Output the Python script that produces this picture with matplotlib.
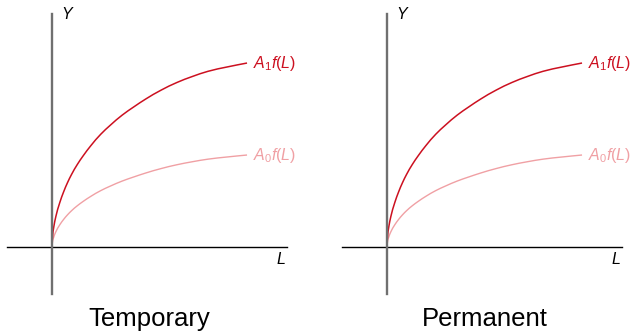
import numpy as np
import matplotlib.pyplot as plt
from matplotlib.path import Path
from matplotlib.patches import PathPatch

plt.rcParams['font.family'] = ['Liberation Sans', 'DejaVu Sans']
plt.rcParams['mathtext.fontset'] = 'custom'
plt.rcParams['mathtext.rm'] = 'Liberation Sans'
plt.rcParams['mathtext.it'] = 'Liberation Sans:italic'

titles = ['Temporary', 'Permanent']

# concave production function f(L), sampled points
L = np.array([0.00, 0.01, 0.02, 0.04, 0.06, 0.08, 0.10, 0.13, 0.16, 0.20, 0.25,
              0.30, 0.36, 0.42, 0.48, 0.56, 0.64, 0.72, 0.80, 0.90, 1.00])
f_L = np.array([0.000, 0.115, 0.167, 0.242, 0.301, 0.351, 0.394, 0.449, 0.496,
                0.552, 0.613, 0.663, 0.717, 0.762, 0.804, 0.853, 0.894, 0.927,
                0.955, 0.979, 1.000])
A0 = 1.0
A1 = 2.0

dark_red = '#cc1020'
light_red = '#f0a0a4'


def smooth_path(x, y):
    # bezier segments through the points, parametrised by s = sqrt(x)
    # so the vertical tangent at the origin comes out smooth
    s = np.sqrt(x)
    hs = np.diff(s)
    d = np.diff(y) / hs
    m = np.empty_like(y)
    m[0] = d[0]
    m[1:-1] = (d[:-1] * hs[1:] + d[1:] * hs[:-1]) / (hs[:-1] + hs[1:])
    m[-1] = d[-1]
    verts = [(x[0], y[0])]
    codes = [Path.MOVETO]
    for i in range(len(x) - 1):
        h = hs[i]
        c1 = (x[i] + 2 * s[i] * h / 3, y[i] + m[i] * h / 3)
        c2 = (x[i + 1] - 2 * s[i + 1] * h / 3, y[i + 1] - m[i + 1] * h / 3)
        verts += [c1, c2, (x[i + 1], y[i + 1])]
        codes += [Path.CURVE4] * 3
    return Path(verts, codes)


W, H = 634, 331
fig = plt.figure(figsize=(W / 100, H / 100), dpi=100)

lefts = [7, 342]
for left, title in zip(lefts, titles):
    ax = fig.add_axes([left / W, (H - 294) / H, 280 / W, 280 / H])
    ax.set_xlim(-0.2308, 1.205)
    ax.set_ylim(-0.511, 2.533)
    ax.axis('off')

    ax.plot([-0.2308, 1.205], [0, 0], color='black', lw=1.0, clip_on=False)
    ax.plot([0, 0], [-0.511, 2.533], color='#707070', lw=1.7, clip_on=False)

    ax.add_patch(PathPatch(smooth_path(L, A0 * f_L), fill=False,
                           edgecolor=light_red, lw=1.0))
    ax.add_patch(PathPatch(smooth_path(L, A1 * f_L), fill=False,
                           edgecolor=dark_red, lw=1.1))

    ax.text(1.03, A1, r'$A_1f(L)$', color=dark_red, fontsize=11.5, va='center', ha='left')
    ax.text(1.03, A0, r'$A_0f(L)$', color=light_red, fontsize=11.5, va='center', ha='left')
    ax.text(0.045, 2.53, r'$Y$', fontsize=11.5, va='center', ha='left')
    ax.text(1.175, -0.13, r'$L$', fontsize=11.5, va='center', ha='center')

    ax.text(0.5, -0.78, title, fontsize=18.5, ha='center', va='center', clip_on=False)

fig.savefig('out.png', dpi=100)
